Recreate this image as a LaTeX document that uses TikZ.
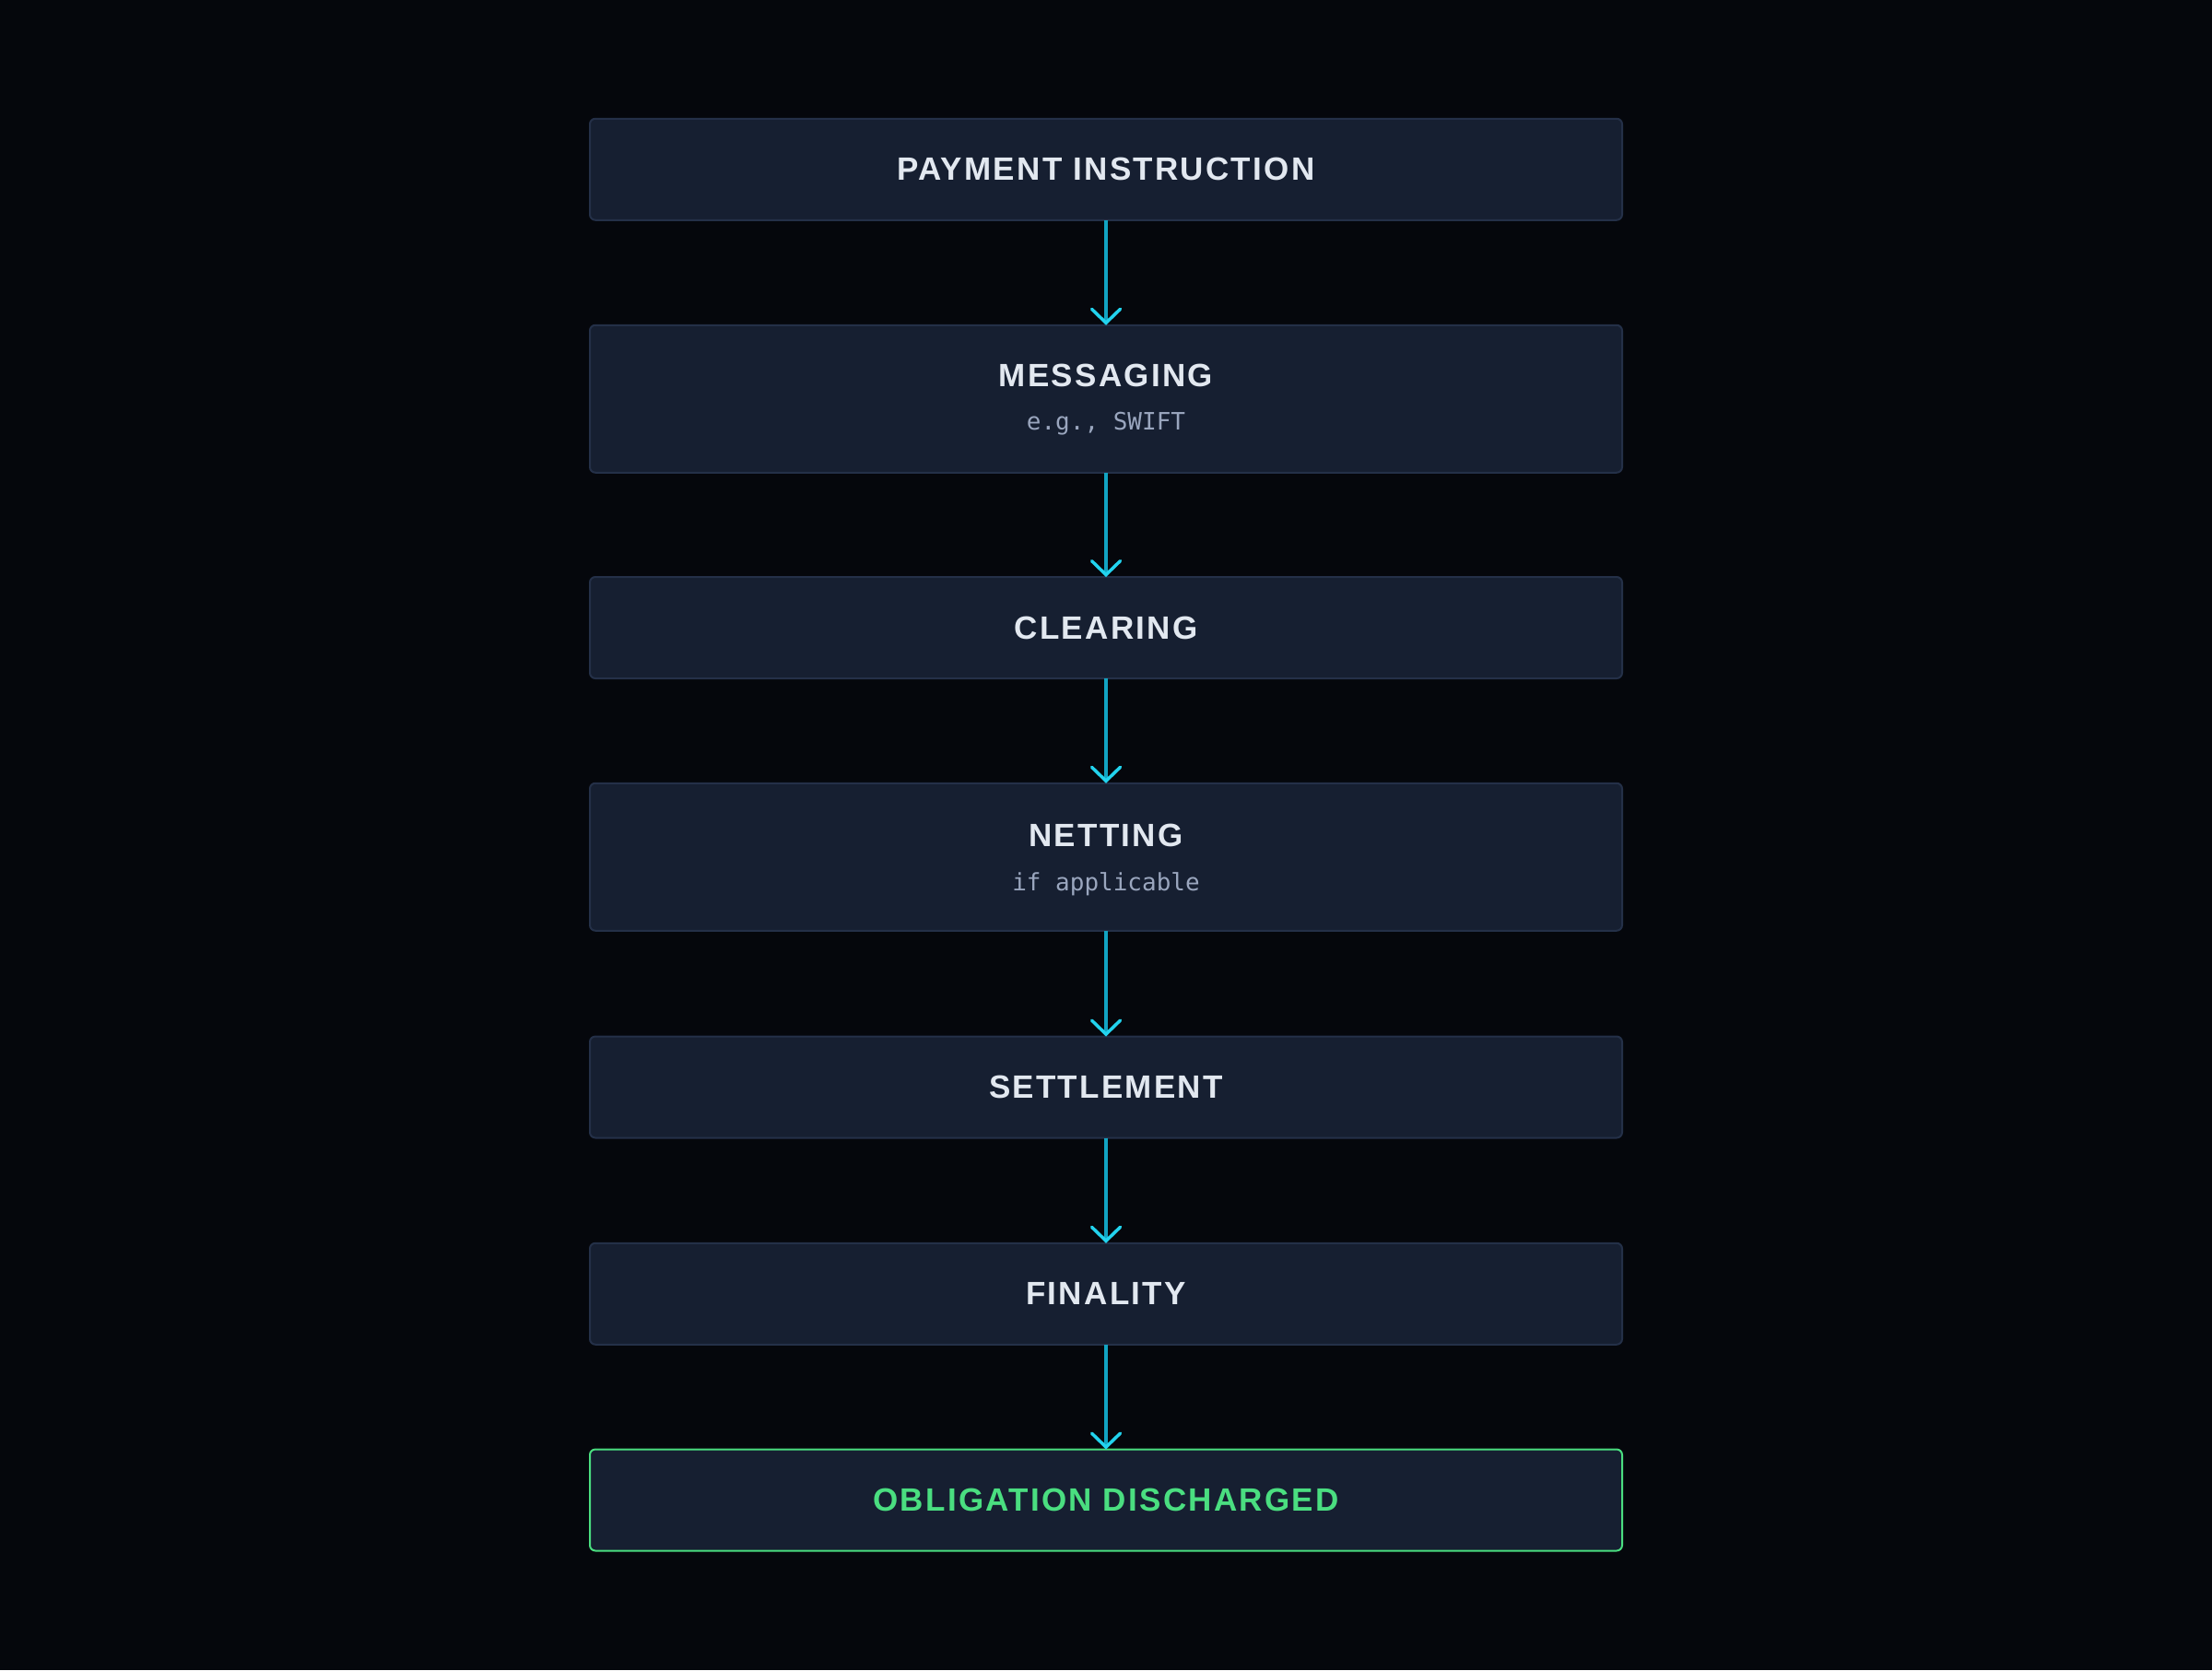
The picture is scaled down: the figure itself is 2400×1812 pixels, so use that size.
\documentclass[tikz,border=0pt]{standalone}
\usepackage{fontspec}
\setmainfont{Liberation Sans}
\newfontfamily\titlefont[LetterSpace=6.5]{Liberation Sans}
\newfontfamily\monofont{DejaVu Sans Mono}
\usetikzlibrary{arrows.meta}
\definecolor{bgc}{HTML}{05070C}
\definecolor{boxfill}{HTML}{161F31}
\definecolor{boxline}{HTML}{243048}
\definecolor{titlec}{HTML}{E2E8F0}
\definecolor{subc}{HTML}{9AA6BE}
\definecolor{linec}{HTML}{12A4C2}
\definecolor{headc}{HTML}{22D3EE}
\definecolor{greenc}{HTML}{4ADE80}
\tikzset{
  stagebox/.style={draw=boxline, line width=2pt, fill=boxfill, rounded corners=6pt,
    minimum width=1120pt, inner sep=0pt, outer sep=0pt},
  finalbox/.style={stagebox, draw=greenc},
  titletext/.style={text=titlec, font=\titlefont\bfseries\fontsize{35pt}{40pt}\selectfont, inner sep=0pt},
  greentext/.style={titletext, text=greenc},
  subtext/.style={text=subc, font=\monofont\fontsize{26pt}{30pt}\selectfont, inner sep=0pt},
  flowarrow/.style={draw=linec, line width=3.2pt,
    -{Straight Barb[length=15pt, width=31pt, line width=3.5pt, color=headc, line cap=round]}},
}
\begin{document}
\begin{tikzpicture}[x=1pt,y=-1pt]
\fill[bgc] (0,0) rectangle (2400,1812);
\useasboundingbox (0,0) rectangle (2400,1812);

\node[stagebox, minimum height=110pt] (b1) at (1200,183.75) {};
\node[titletext] (t1) at (1200,183.75) {PAYMENT INSTRUCTION};

\node[stagebox, minimum height=160pt] (b2) at (1200,432.75) {};
\node[titletext] (t2) at (1200,407) {MESSAGING};
\node[subtext] (s2) at (1200,460) {e.g., SWIFT};

\node[stagebox, minimum height=110pt] (b3) at (1200,681) {};
\node[titletext] (t3) at (1200,681) {CLEARING};

\node[stagebox, minimum height=160pt] (b4) at (1200,929.75) {};
\node[titletext] (t4) at (1200,906) {NETTING};
\node[subtext] (s4) at (1200,959) {if applicable};

\node[stagebox, minimum height=110pt] (b5) at (1200,1179.5) {};
\node[titletext] (t5) at (1200,1179.5) {SETTLEMENT};

\node[stagebox, minimum height=110pt] (b6) at (1200,1403.75) {};
\node[titletext] (t6) at (1200,1403.75) {FINALITY};

\node[finalbox, minimum height=110pt] (b7) at (1200,1627.5) {};
\node[greentext] (t7) at (1200,1627.5) {OBLIGATION DISCHARGED};

\draw[flowarrow] (b1.south) -- (b2.north);
\draw[flowarrow] (b2.south) -- (b3.north);
\draw[flowarrow] (b3.south) -- (b4.north);
\draw[flowarrow] (b4.south) -- (b5.north);
\draw[flowarrow] (b5.south) -- (b6.north);
\draw[flowarrow] (b6.south) -- (b7.north);
\end{tikzpicture}
\end{document}
